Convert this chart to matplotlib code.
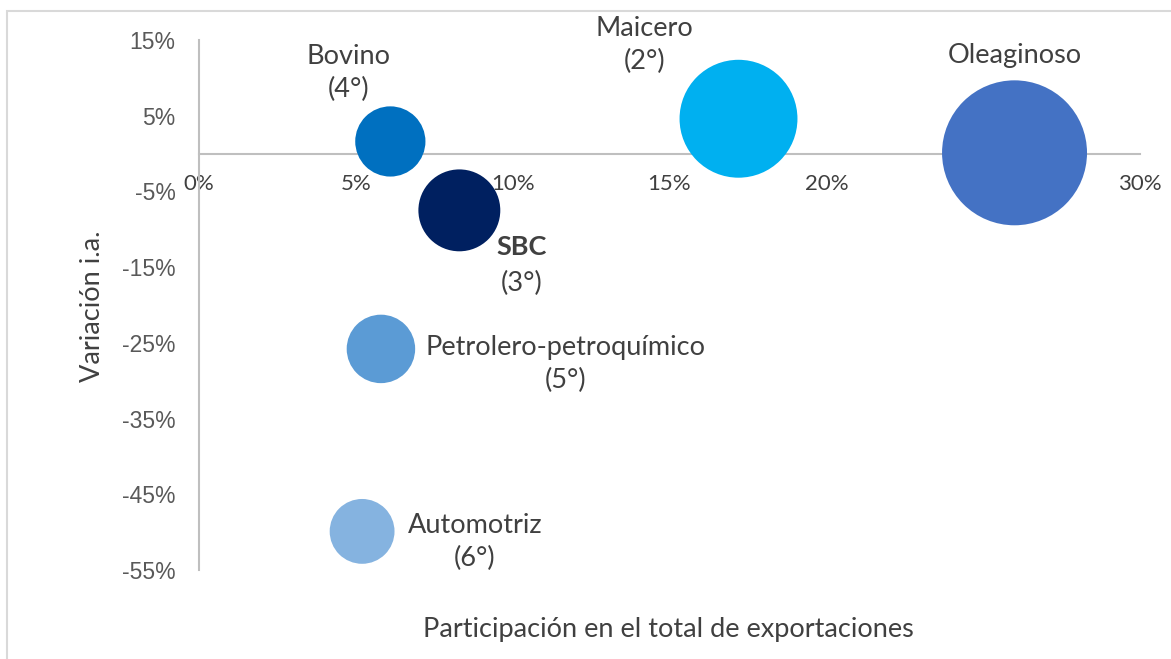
import matplotlib
matplotlib.use('Agg')
import matplotlib.pyplot as plt
from matplotlib.patches import Rectangle

# datos
sectores = ['Bovino', 'SBC', 'Maicero', 'Oleaginoso', 'Petrolero-petroquímico', 'Automotriz']
ranking = ['4°', '3°', '2°', '1°', '5°', '6°']
participacion = [6.1, 8.3, 17.2, 26.0, 5.8, 5.2]
variacion = [1.6, -7.5, 4.6, 0.1, -25.8, -49.9]
colores = ['#0070C0', '#002060', '#00B0F0', '#4472C4', '#5B9BD5', '#85B3E0']

# posiciones de las etiquetas (layout)
etiqueta_x = [4.78, 10.3, 14.2, 26.0, 11.7, 8.8]
etiqueta_y = [10.6, -14.8, 14.3, 13.0, -27.8, -51.3]

fig = plt.figure(figsize=(11.71, 6.59), dpi=100)
fig.patches.append(Rectangle((7/1171, -0.1), 1.2, 1 - 11/659 + 0.1, transform=fig.transFigure,
                             fill=False, edgecolor='#D9D9D9', linewidth=1.5))
ax = fig.add_axes([199/1171, 89/659, 941/1171, 530/659])

tam = [p * 419 for p in participacion]
ax.scatter(participacion, variacion, s=tam, c=colores, linewidths=0, zorder=3)

ax.set_xlim(0, 30)
ax.set_ylim(-55, 15)
ax.spines['top'].set_visible(False)
ax.spines['right'].set_visible(False)
ax.spines['bottom'].set_position(('data', 0))
for s in ['left', 'bottom']:
    ax.spines[s].set_color('#BFBFBF')
    ax.spines[s].set_linewidth(1.5)

ax.set_xticks(range(0, 31, 5))
ax.set_xticklabels([f'{v}%' for v in range(0, 31, 5)], fontfamily='Lato', fontsize=16, color='#404040')
ax.set_yticks(range(15, -56, -10))
ax.set_yticklabels([f'{v}%' for v in range(15, -56, -10)], fontfamily='Liberation Sans', fontsize=16.5, color='#595959')
ax.tick_params(axis='x', length=0, pad=15)
ax.tick_params(axis='y', length=0, pad=17)

fs = 19.5
for i, nombre in enumerate(sectores):
    if nombre == 'Oleaginoso':
        ax.text(etiqueta_x[i], etiqueta_y[i], nombre, ha='center', va='center',
                fontfamily='Lato', fontsize=fs, color='#404040')
    elif nombre == 'SBC':
        ax.text(etiqueta_x[i], etiqueta_y[i] + 2.4, nombre, ha='center', va='center',
                fontfamily='Lato', fontsize=fs, color='#404040', fontweight='bold')
        ax.text(etiqueta_x[i], etiqueta_y[i] - 2.4, f'({ranking[i]})', ha='center', va='center',
                fontfamily='Lato', fontsize=fs, color='#404040')
    else:
        ax.text(etiqueta_x[i], etiqueta_y[i], f'{nombre}\n({ranking[i]})', ha='center', va='center',
                fontfamily='Lato', fontsize=fs, color='#404040', linespacing=1.38, multialignment='center')

fig.text(668/1171, 1 - 630/659, 'Participación en el total de exportaciones', ha='center', va='center',
         fontfamily='Lato', fontsize=fs, color='#404040')
fig.text(92/1171, 1 - 306/659, 'Variación i.a.', ha='center', va='center', rotation=90,
         fontfamily='Lato', fontsize=fs, color='#404040')

fig.savefig('out.png', dpi=100)
